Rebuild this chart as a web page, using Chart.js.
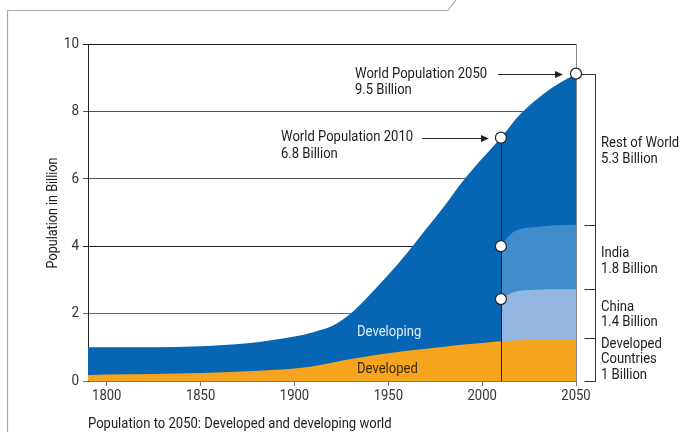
<!DOCTYPE html>
<html>
<head>
<meta charset="utf-8">
<script src="https://cdn.jsdelivr.net/npm/chart.js@4/dist/chart.umd.min.js"></script>
<style>
  html, body { margin: 0; padding: 0; background: #fff; }
  #wrap { width: 682px; height: 432px; position: relative; }
</style>
</head>
<body>
<div id="wrap"><canvas id="chart" width="682" height="432"></canvas></div>
<script>
const FONT = 'Roboto, "Noto Sans", sans-serif';
const SX = 0.9; // horizontal squeeze to mimic the condensed face

// world history + projection (billions)
const years = [1790, 1800, 1825, 1850, 1875, 1900, 1910, 1920, 1930, 1940, 1950, 1960, 1970, 1980, 1990, 2000, 2010, 2020, 2030, 2040, 2050];
const worldTotal = [1.0, 1.0, 1.0, 1.03, 1.12, 1.32, 1.45, 1.63, 2.0, 2.55, 3.15, 3.8, 4.5, 5.2, 5.95, 6.6, 7.22, 7.9, 8.4, 8.8, 9.12];
const developed = [0.18, 0.19, 0.21, 0.24, 0.29, 0.37, 0.44, 0.54, 0.65, 0.74, 0.82, 0.9, 0.96, 1.02, 1.08, 1.13, 1.18, 1.21, 1.23, 1.24, 1.25];

// split of the developing world after 2010 (cumulative tops)
const futureYears = [2010, 2015, 2020, 2030, 2040, 2050];
const chinaTop = [2.43, 2.6, 2.68, 2.71, 2.72, 2.72];
const indiaTop = [4.0, 4.35, 4.5, 4.58, 4.62, 4.64];

const xTicks = [1800, 1850, 1900, 1950, 2000, 2050];
const yTicks = [0, 2, 4, 6, 8, 10];

// circles on the chart
const markers = [
  { x: 2010, y: 7.22 },
  { x: 2010, y: 4.0 },
  { x: 2010, y: 2.43 },
  { x: 2050, y: 9.12 }
];
// bracket ticks on the right
const bracketLevels = [9.12, 4.64, 2.72, 1.27, 0];

const pts = (xs, ys) => xs.map((x, i) => ({ x, y: ys[i] }));

const gridColors = { 0: '#6a6a6a', 2: '#6a6a6a', 4: '#1e1e1e', 6: '#555', 8: '#555', 10: '#1e1e1e' };

function squeezed(ctx, s, tx, ty, align, color, size) {
  ctx.save();
  ctx.translate(tx, ty);
  ctx.scale(SX, 1);
  ctx.font = (size || 14.5) + 'px ' + FONT;
  ctx.textAlign = align || 'left';
  ctx.textBaseline = 'middle';
  ctx.fillStyle = color || '#1c1c1c';
  ctx.fillText(s, 0, 0);
  ctx.restore();
}

const overlay = {
  id: 'overlay',
  afterDraw(chart) {
    const ctx = chart.ctx;
    const x = chart.scales.x, y = chart.scales.y;
    const area = chart.chartArea;
    ctx.save();

    // outer frame
    ctx.strokeStyle = '#a8a8a8';
    ctx.lineWidth = 1.2;
    ctx.beginPath();
    ctx.moveTo(7.5, 432);
    ctx.lineTo(7.5, 10.5);
    ctx.lineTo(448, 10.5);
    ctx.lineTo(456, 0);
    ctx.stroke();

    // right border of plot
    ctx.strokeStyle = '#8a8a8a';
    ctx.lineWidth = 1;
    ctx.beginPath();
    ctx.moveTo(area.right + 0.5, area.top);
    ctx.lineTo(area.right + 0.5, area.bottom);
    ctx.stroke();

    // 2010 vertical line
    const x2010 = Math.round(x.getPixelForValue(2010)) + 0.5;
    ctx.strokeStyle = '#1e1e1e';
    ctx.beginPath();
    ctx.moveTo(x2010, y.getPixelForValue(markers[0].y));
    ctx.lineTo(x2010, area.bottom);
    ctx.stroke();

    // bracket on the right
    const bx = area.right + 19.5;
    const top = y.getPixelForValue(bracketLevels[0]);
    ctx.strokeStyle = '#333';
    ctx.beginPath();
    ctx.moveTo(area.right + 6, Math.round(top) + 0.5);
    ctx.lineTo(bx, Math.round(top) + 0.5);
    ctx.lineTo(bx, area.bottom + 0.5);
    bracketLevels.slice(1).forEach(v => {
      const py = Math.round(y.getPixelForValue(v)) + 0.5;
      ctx.moveTo(bx - 11, py);
      ctx.lineTo(bx, py);
    });
    ctx.stroke();

    // arrows
    const arrow = (x0, x1, py) => {
      ctx.strokeStyle = '#222';
      ctx.fillStyle = '#222';
      ctx.beginPath();
      ctx.moveTo(x0, py + 0.5);
      ctx.lineTo(x1 - 6, py + 0.5);
      ctx.stroke();
      ctx.beginPath();
      ctx.moveTo(x1, py + 0.5);
      ctx.lineTo(x1 - 8, py - 3);
      ctx.lineTo(x1 - 8, py + 4);
      ctx.closePath();
      ctx.fill();
    };
    const m2050 = markers[3], m2010 = markers[0];
    arrow(498, x.getPixelForValue(m2050.x) - 13, Math.round(y.getPixelForValue(m2050.y)));
    arrow(422, x.getPixelForValue(m2010.x) - 12, Math.round(y.getPixelForValue(m2010.y)));

    // circles
    markers.forEach(m => {
      ctx.beginPath();
      ctx.arc(x.getPixelForValue(m.x), y.getPixelForValue(m.y), 5.5, 0, Math.PI * 2);
      ctx.fillStyle = '#fff';
      ctx.fill();
      ctx.strokeStyle = '#222';
      ctx.lineWidth = 1.2;
      ctx.stroke();
    });

    // tick labels
    xTicks.forEach(v => squeezed(ctx, String(v), x.getPixelForValue(v), area.bottom + 15, 'center', '#333', 14.5));
    yTicks.forEach(v => squeezed(ctx, String(v), 79, y.getPixelForValue(v), 'right', '#333', 15));

    // annotations
    squeezed(ctx, 'World Population 2050', 355, 74);
    squeezed(ctx, '9.5 Billion', 355, 90);
    squeezed(ctx, 'World Population 2010', 281, 137);
    squeezed(ctx, '6.8 Billion', 281, 154);
    squeezed(ctx, 'Rest of World', 601, 143);
    squeezed(ctx, '5.3 Billion', 601, 159);
    squeezed(ctx, 'India', 601, 253);
    squeezed(ctx, '1.8 Billion', 601, 269);
    squeezed(ctx, 'China', 601, 307);
    squeezed(ctx, '1.4 Billion', 601, 322);
    squeezed(ctx, 'Developed', 601, 344);
    squeezed(ctx, 'Countries', 601, 359);
    squeezed(ctx, '1 Billion', 601, 375);
    squeezed(ctx, 'Developing', 357, 332, 'left', '#e4eef8');
    squeezed(ctx, 'Developed', 357, 369, 'left', '#3a2a10');
    squeezed(ctx, 'Population to 2050: Developed and developing world', 88, 424);

    // y title
    ctx.translate(53, 213);
    ctx.rotate(-Math.PI / 2);
    squeezed(ctx, 'Population in Billion', 0, 0, 'center', '#1c1c1c', 14);
    ctx.restore();
  }
};

new Chart(document.getElementById('chart').getContext('2d'), {
  type: 'line',
  data: {
    datasets: [
      {
        label: 'Developed',
        data: pts(years, developed),
        borderWidth: 0,
        backgroundColor: '#f6a41e',
        fill: 'origin'
      },
      {
        label: 'China',
        data: pts(futureYears, chinaTop),
        borderWidth: 0,
        backgroundColor: '#92b6e0',
        fill: 'origin'
      },
      {
        label: 'India',
        data: pts(futureYears, indiaTop),
        borderWidth: 0,
        backgroundColor: '#418ccb',
        fill: 'origin'
      },
      {
        label: 'Developing',
        data: pts(years, worldTotal),
        borderWidth: 0,
        backgroundColor: '#0666b3',
        fill: 'origin'
      }
    ]
  },
  options: {
    responsive: false,
    animation: false,
    events: [],
    elements: { point: { radius: 0 }, line: { cubicInterpolationMode: 'monotone' } },
    layout: { padding: { left: 0, right: 106, top: 44, bottom: 21 } },
    plugins: { legend: { display: false }, tooltip: { enabled: false } },
    scales: {
      x: {
        type: 'linear',
        min: 1790,
        max: 2050,
        afterBuildTicks: s => { s.ticks = xTicks.map(v => ({ value: v })); },
        afterFit: s => { s.height = 30; },
        grid: { drawOnChartArea: false, drawTicks: true, tickLength: 5, color: '#777' },
        border: { color: '#777' },
        ticks: { display: false }
      },
      y: {
        min: 0,
        max: 10,
        z: 1,
        afterBuildTicks: s => { s.ticks = yTicks.map(v => ({ value: v })); },
        afterFit: s => { s.width = 88; },
        grid: {
          tickLength: 5,
          color: c => gridColors[c.tick.value] || '#555',
          lineWidth: 1
        },
        border: { color: '#222' },
        ticks: { display: false }
      }
    }
  },
  plugins: [overlay]
});
</script>
</body>
</html>
